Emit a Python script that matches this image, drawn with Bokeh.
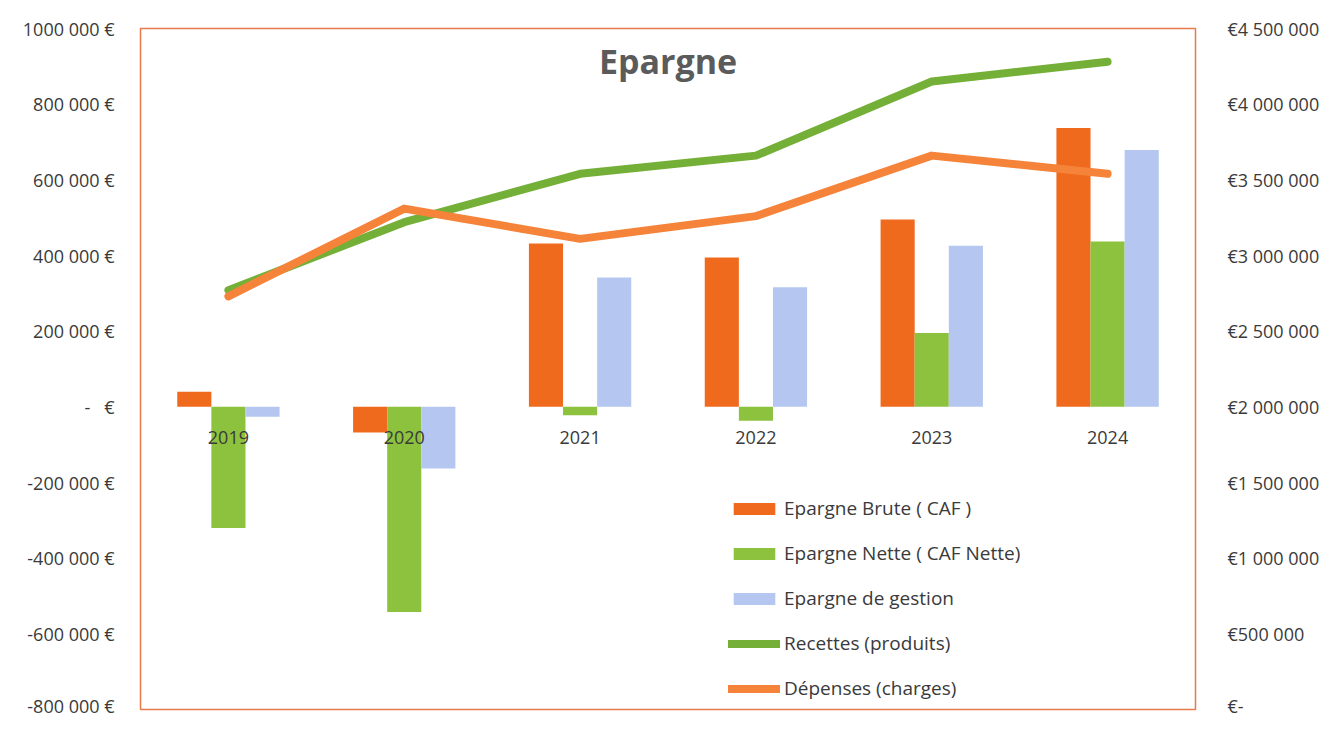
from bokeh.plotting import figure
from bokeh.models import (Range1d, LinearAxis, FixedTicker, Legend, LegendItem,
                          Label, ColumnDataSource, FactorRange)
from bokeh.transform import dodge
from bokeh.core.properties import value
from bokeh.embed import file_html
from bokeh.resources import INLINE

# ---- data ----
years = ["2019", "2020", "2021", "2022", "2023", "2024"]
epargne_brute = [40000, -68000, 432000, 395000, 495000, 737000]
epargne_nette = [-320000, -542000, -22000, -37000, 195000, 437000]
epargne_gestion = [-26000, -163000, 342000, 316000, 426000, 679000]
recettes = [2770000, 3220000, 3540000, 3660000, 4150000, 4280000]
depenses = [2730000, 3310000, 3110000, 3260000, 3660000, 3540000]

left_ticks = [-800000, -600000, -400000, -200000, 0, 200000, 400000, 600000, 800000, 1000000]
left_labels = ["-800 000 €", "-600 000 €", "-400 000 €", "-200 000 €", "-\u00a0\u00a0\u00a0€",
               "200 000 €", "400 000 €", "600 000 €", "800 000 €", "1000 000 €"]
right_ticks = [0, 500000, 1000000, 1500000, 2000000, 2500000, 3000000, 3500000, 4000000, 4500000]
right_labels = ["€-", "€500 000", "€1 000 000", "€1 500 000", "€2 000 000",
                "€2 500 000", "€3 000 000", "€3 500 000", "€4 000 000", "€4 500 000"]

FONT = "Open Sans"
TXT = "#3a3a3a"

src = ColumnDataSource(dict(years=years, brute=epargne_brute, nette=epargne_nette,
                            gestion=epargne_gestion, recettes=recettes, depenses=depenses,
                            zero=[0] * len(years)))

p = figure(x_range=FactorRange(*years, range_padding=0), y_range=Range1d(-800000, 1000000),
           width=1324, height=717, output_backend="svg", toolbar_location=None,
           min_border_left=140, min_border_right=129, min_border_top=28, min_border_bottom=8)
p.extra_y_ranges = {"right": Range1d(0, 4500000)}

p.xgrid.visible = False
p.ygrid.visible = False
p.xaxis.visible = False
p.outline_line_color = "#E8794A"
p.outline_line_width = 1.5
p.background_fill_color = "white"
p.border_fill_color = "white"

# left axis
ya = p.yaxis[0]
ya.ticker = FixedTicker(ticks=left_ticks)
ya.major_label_overrides = {t: l for t, l in zip(left_ticks, left_labels)}
ya.axis_line_color = None
ya.major_tick_line_color = None
ya.minor_tick_line_color = None
ya.major_label_standoff = 20
ya.major_label_text_font = FONT
ya.major_label_text_font_size = "18px"
ya.major_label_text_color = TXT

# right axis
ra = LinearAxis(y_range_name="right", ticker=FixedTicker(ticks=right_ticks))
ra.major_label_overrides = {t: l for t, l in zip(right_ticks, right_labels)}
ra.axis_line_color = None
ra.major_tick_line_color = None
ra.minor_tick_line_color = None
ra.major_label_standoff = 26
ra.major_label_text_font = FONT
ra.major_label_text_font_size = "18px"
ra.major_label_text_color = TXT
p.add_layout(ra, "right")

bw = 0.194
r1 = p.vbar(x=dodge("years", -bw, range=p.x_range), top="brute", bottom=0, width=bw,
            source=src, fill_color="#F06A1E", line_color=None)
r2 = p.vbar(x=dodge("years", 0, range=p.x_range), top="nette", bottom=0, width=bw,
            source=src, fill_color="#8DC23F", line_color=None)
r3 = p.vbar(x=dodge("years", bw, range=p.x_range), top="gestion", bottom=0, width=bw,
            source=src, fill_color="#B5C7F0", line_color=None)

r4 = p.line(x="years", y="recettes", source=src, y_range_name="right",
            line_color="#74B037", line_width=8, line_cap="round", line_join="round")
r5 = p.line(x="years", y="depenses", source=src, y_range_name="right",
            line_color="#F5843A", line_width=8, line_cap="round", line_join="round")

# category labels along zero line
p.text(x="years", y="zero", text="years", source=src, text_align="center",
       text_baseline="top", y_offset=24, text_font=value(FONT),
       text_font_size="18px", text_color=TXT)

# title inside frame
p.add_layout(Label(x=3.0, y=915000, text="Epargne", text_align="center",
                   text_baseline="middle", text_font=FONT, text_font_size="34px",
                   text_font_style="bold", text_color="#5b5b5b"))

legend = Legend(items=[
    LegendItem(label="Epargne Brute ( CAF )", renderers=[r1]),
    LegendItem(label="Epargne Nette ( CAF Nette)", renderers=[r2]),
    LegendItem(label="Epargne de gestion", renderers=[r3]),
    LegendItem(label="Recettes (produits)", renderers=[r4]),
    LegendItem(label="Dépenses (charges)", renderers=[r5]),
], location=(588, 8))
legend.border_line_color = None
legend.background_fill_alpha = 0
legend.label_text_font = FONT
legend.label_text_font_size = "19px"
legend.label_text_color = TXT
legend.glyph_width = 52
legend.glyph_height = 15
legend.label_height = 20
legend.spacing = 19
legend.padding = 5
legend.label_standoff = 4
p.add_layout(legend, "center")

open("out.html", "w").write(file_html(p, INLINE))
